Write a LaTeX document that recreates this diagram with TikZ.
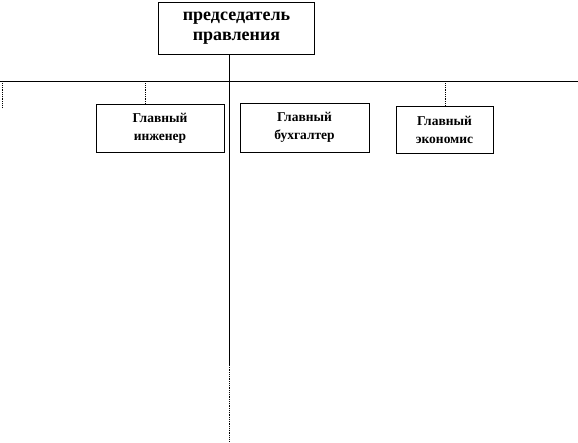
\documentclass[tikz,border=0pt]{standalone}
\usepackage{fontspec}
\setmainfont{Liberation Serif}
\begin{document}
\begin{tikzpicture}[x=1pt,y=-1pt,
  box/.style={draw=black,line width=0.7pt,fill=white,align=center,font=\bfseries,inner sep=0pt},
  sub/.style={box,font=\bfseries\fontsize{13.5}{18}\selectfont},
  conn/.style={line width=0.8pt,black},
  dots/.style={line width=0.8pt,black,densely dotted}]
\useasboundingbox[fill=white] (0,0) rectangle (578,443);
\node[box,minimum width=156pt,minimum height=52pt,font=\bfseries\fontsize{18}{20}\selectfont] (chair) at (236.5,28.5) {председатель\\правления};
\node[sub,minimum width=128pt,minimum height=48pt] (eng) at (160,128) {Главный\\инженер};
\node[sub,minimum width=129pt,minimum height=49pt] (acc) at (304.5,127.5) {Главный\\бухгалтер};
\node[sub,minimum width=97pt,minimum height=47pt] (eco) at (444.5,129.5) {Главный\\экономис};
\coordinate (hl) at (0,81.5);
\coordinate (hr) at (578,81.5);
\coordinate (trunk) at (229,81.5);
\coordinate (mid) at (229,365);
\coordinate (bot) at (229,442);
\coordinate (lt) at (2,81.5);
\coordinate (lb) at (2,108);
\coordinate (et) at (145,81.5);
\coordinate (eb) at (145,104);
\coordinate (ct) at (445,81.5);
\coordinate (cb) at (445,106);
\draw[conn] (hl) -- (hr);
\draw[conn] (chair.south -| trunk) -- (mid);
\draw[dots] (mid) -- (bot);
\draw[dots] (lt) -- (lb);
\draw[dots] (et) -- (eb);
\draw[dots] (ct) -- (cb);
\end{tikzpicture}
\end{document}
